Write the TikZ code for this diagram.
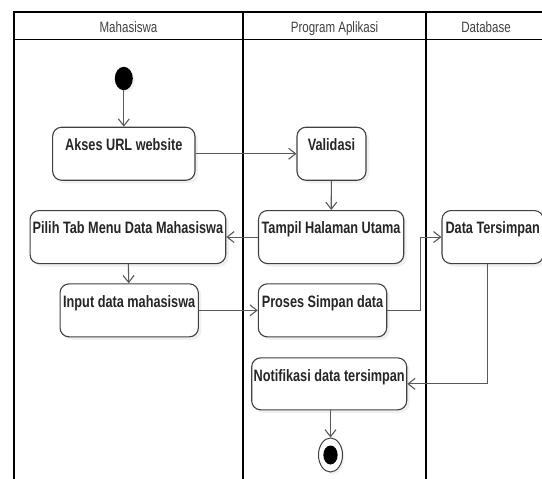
\documentclass[tikz,border=0pt]{standalone}
\usepackage{fontspec}
\newfontfamily\sempit[FakeStretch=0.77]{Liberation Sans}
\usetikzlibrary{arrows.meta, shapes.geometric, shadows}

\tikzset{
    aktivitas/.style={draw=black!75, line width=1.1pt, rounded corners=9pt, fill=white,
        drop shadow={shadow xshift=3pt, shadow yshift=-3pt, opacity=0.12},
        anchor=north, inner xsep=0pt, inner ysep=0pt,
        text height=23.3pt, text depth=29.7pt, text=black!85,
        font=\fontsize{16.5}{18}\sempit\bfseries},
    judul/.style={anchor=base, text=black!75, font=\fontsize{15}{17}\sempit},
    lajur/.style={line width=1.5pt, black},
    panah/.style={draw=black!65, line width=1.1pt,
        -{Straight Barb[length=7pt, width=11pt, line width=1.1pt]}},
}

\begin{document}
\begin{tikzpicture}[x=1pt, y=-1pt]
    \useasboundingbox (0,0) rectangle (542,479);

    % Couloirs (swimlanes)
    \draw[lajur] (14,485) |- (546,12) -- (546,485);
    \draw[lajur] (14,39.5) -- (546,39.5);
    \draw[lajur] (243,12) -- (243,485);
    \draw[lajur] (426,12) -- (426,485);
    \node[judul] (lajurA) at (128.5,33) {Mahasiswa};
    \node[judul] (lajurB) at (334.5,33) {Program Aplikasi};
    \node[judul] (lajurC) at (486,33) {Database};

    % Etat initial
    \node[ellipse, fill=black, minimum width=18pt, minimum height=23.4pt, inner sep=0pt,
        drop shadow={shadow xshift=2pt, shadow yshift=-2pt, opacity=0.12}] (mulai) at (123.8,78.5) {};

    % Activites
    \node[aktivitas, minimum width=142.3pt] (akses) at (123.8,126.7) {Akses URL website};
    \node[aktivitas, minimum width=69pt] (validasi) at (331.5,126.7) {Validasi};
    \node[aktivitas, minimum width=195.7pt] (pilih) at (127.9,210) {Pilih Tab Menu Data Mahasiswa};
    \node[aktivitas, minimum width=145.2pt] (tampil) at (331.1,210) {Tampil Halaman Utama};
    \node[aktivitas, minimum width=101.4pt] (tersimpan) at (492.7,210) {Data Tersimpan};
    \node[aktivitas, minimum width=138.3pt] (input) at (129.2,283.3) {Input data mahasiswa};
    \node[aktivitas, minimum width=128.4pt] (proses) at (322.5,283.3) {Proses Simpan data};
    \node[aktivitas, minimum width=155pt, text depth=28.7pt] (notif) at (329.2,357.3) {Notifikasi data tersimpan};

    % Etat final
    \node[ellipse, draw=black!75, line width=1pt, fill=white, minimum width=24pt, minimum height=34pt,
        inner sep=0pt, drop shadow={shadow xshift=2pt, shadow yshift=-2pt, opacity=0.12}] (selesai) at (330.5,455) {};
    \node[ellipse, fill=black, minimum width=14.3pt, minimum height=19pt, inner sep=0pt] (selesaiInti) at (selesai) {};

    % Transitions
    \draw[panah] (mulai) -- (akses);
    \draw[panah] (akses) -- (validasi);
    \draw[panah] (validasi) -- (tampil);
    \draw[panah] (tampil) -- (pilih);
    \draw[panah] (pilih) -- (input);
    \draw[panah] (input) -- (proses);
    \draw[panah] (proses.east) -- ++(33,0) |- (tersimpan.west);
    \draw[panah] ([xshift=-5pt]tersimpan.south) |- (notif.east);
    \draw[panah] (notif.south -| selesai) -- (selesai);
\end{tikzpicture}
\end{document}
